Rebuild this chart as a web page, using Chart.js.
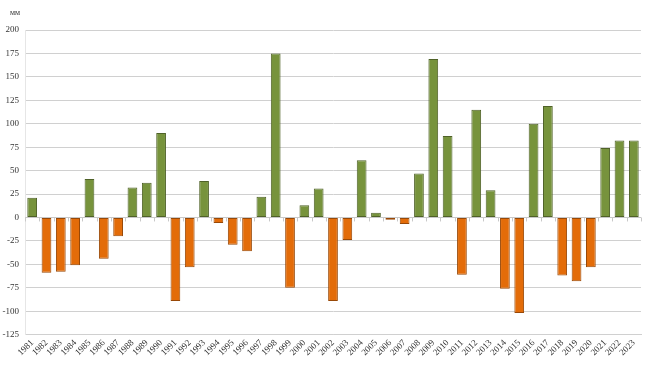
<!DOCTYPE html>
<html>
<head>
<meta charset="utf-8">
<script src="https://cdn.jsdelivr.net/npm/chart.js@4"></script>
<style>
  html, body { margin: 0; padding: 0; background: #fff; }
  #wrap { width: 649px; height: 367px; }
</style>
</head>
<body>
<div id="wrap"><canvas id="myChart" width="649" height="367"></canvas></div>
<script>
var years = ['1981','1982','1983','1984','1985','1986','1987','1988','1989','1990',
  '1991','1992','1993','1994','1995','1996','1997','1998','1999','2000',
  '2001','2002','2003','2004','2005','2006','2007','2008','2009','2010',
  '2011','2012','2013','2014','2015','2016','2017','2018','2019','2020',
  '2021','2022','2023'];
var anomaly = [21, -59, -58, -51, 41, -44, -20, 32, 37, 90,
  -89, -53, 39, -6, -29, -36, 22, 175, -75, 13,
  31, -89, -24, 61, 5, -2.5, -7, 47, 169, 87,
  -61, 115, 29, -76, -102, 100, 119, -62, -68, -53,
  74, 82, 82];
var yTicks = [200, 175, 150, 125, 100, 75, 50, 25, 0, -25, -50, -75, -100, -125];
var unitLabel = 'мм';

var fontFamily = '"Liberation Serif", "Times New Roman", serif';

// unit label above the y axis + small tick marks on the zero line
var extras = {
  id: 'extras',
  afterDatasetsDraw: function(chart) {
    var ctx = chart.ctx;
    var x = chart.scales.x, y = chart.scales.y;
    var y0 = y.getPixelForValue(0);
    var step = (x.right - x.left) / years.length;
    ctx.save();
    ctx.strokeStyle = '#c8c8c8';
    ctx.lineWidth = 1;
    ctx.beginPath();
    ctx.moveTo(x.left, Math.round(y0) + 0.5);
    ctx.lineTo(x.right, Math.round(y0) + 0.5);
    for (var i = 0; i <= years.length; i++) {
      var px = Math.round(x.left + i * step) + 0.5;
      ctx.moveTo(px, y0);
      ctx.lineTo(px, y0 + 4);
    }
    ctx.stroke();

    ctx.fillStyle = '#333';
    ctx.font = '8px ' + fontFamily;
    ctx.textAlign = 'left';
    ctx.textBaseline = 'middle';
    ctx.fillText(unitLabel, 10, 13);
    ctx.restore();
  }
};

var ctx = document.getElementById('myChart').getContext('2d');
new Chart(ctx, {
  type: 'bar',
  data: {
    labels: years,
    datasets: [{
      label: unitLabel,
      data: anomaly,
      backgroundColor: anomaly.map(function(v) { return v >= 0 ? '#77933C' : '#E36C09'; }),
      borderColor: anomaly.map(function(v) { return v >= 0 ? '#4F6228' : '#984807'; }),
      borderWidth: 1,
      borderSkipped: false,
      barPercentage: 0.68,
      categoryPercentage: 1.0
    }]
  },
  options: {
    responsive: false,
    animation: false,
    devicePixelRatio: 1,
    layout: { padding: { left: 0, right: 8, top: 30, bottom: 6 } },
    plugins: {
      legend: { display: false },
      tooltip: { enabled: false }
    },
    scales: {
      x: {
        grid: { display: false, drawTicks: false },
        border: { display: true, color: '#d0d0d0' },
        ticks: {
          color: '#333',
          font: { family: fontFamily, size: 9 },
          minRotation: 45,
          maxRotation: 45,
          autoSkip: false,
          padding: 3
        }
      },
      y: {
        min: -125,
        max: 200,
        afterBuildTicks: function(scale) {
          scale.ticks = yTicks.map(function(v) { return { value: v }; });
        },
        afterFit: function(scale) { scale.width = 25; },
        grid: { color: '#d0d0d0', drawTicks: false },
        border: { display: true, color: '#e6e6e6' },
        ticks: {
          color: '#333',
          font: { family: fontFamily, size: 9 },
          padding: 6
        }
      }
    }
  },
  plugins: [extras]
});
</script>
</body>
</html>
